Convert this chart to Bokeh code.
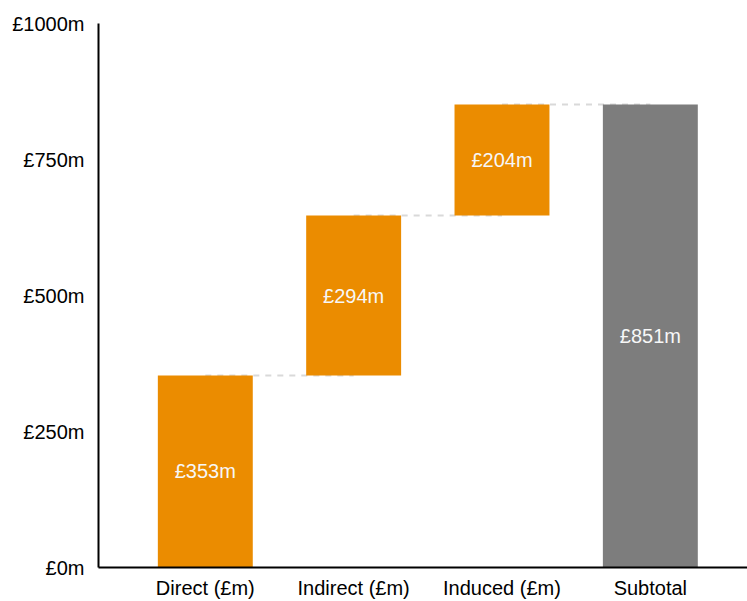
from bokeh.plotting import figure
from bokeh.models import ColumnDataSource, Range1d, FixedTicker
from bokeh.core.properties import value
from bokeh.embed import file_html
from bokeh.resources import INLINE

# Waterfall data: contributions and the resulting subtotal (£m)
categories = ["Direct (£m)", "Indirect (£m)", "Induced (£m)", "Subtotal"]
contributions = [353, 294, 204]
subtotal = 851
y_ticks = [0, 250, 500, 750, 1000]
y_tick_labels = ["£0m", "£250m", "£500m", "£750m", "£1000m"]

ORANGE = "#EB8C00"
GREY = "#7D7D7D"
FONT = "Liberation Sans"

# Build bar extents
xs = list(range(len(categories)))
bottoms, tops, colors, labels = [], [], [], []
running = 0
for v in contributions:
    bottoms.append(running)
    running += v
    tops.append(running)
    colors.append(ORANGE)
    labels.append(f"£{v}m")
bottoms.append(0)
tops.append(subtotal)
colors.append(GREY)
labels.append(f"£{subtotal}m")
mids = [(b + t) / 2 for b, t in zip(bottoms, tops)]

bars = ColumnDataSource(dict(x=xs, bottom=bottoms, top=tops, color=colors,
                             label=labels, mid=mids))

# Dashed connectors at each running total
conn_x0 = xs[:-1]
conn_x1 = xs[1:]
conn_y = tops[:-1]
connectors = ColumnDataSource(dict(x0=conn_x0, x1=conn_x1, y=conn_y))

p = figure(width=747, height=601, output_backend="svg", toolbar_location=None,
           x_range=Range1d(-0.72, 3.655), y_range=Range1d(0, 1000),
           min_border_left=98, min_border_right=0, min_border_top=23,
           min_border_bottom=0)
p.outline_line_color = None
p.grid.grid_line_color = None
p.background_fill_color = "white"
p.border_fill_color = "white"

p.segment(x0="x0", y0="y", x1="x1", y1="y", source=connectors,
          line_color="#D9D9D9", line_width=2, line_dash="6 6")

p.vbar(x="x", bottom="bottom", top="top", width=0.64, source=bars,
       fill_color="color", line_color="color", line_width=0)

p.text(x="x", y="mid", text="label", source=bars, text_color="#F7F7F7",
       text_font=value(FONT), text_font_size="20px", text_align="center",
       text_baseline="middle")

# Axes
p.yaxis.ticker = FixedTicker(ticks=y_ticks)
p.yaxis.major_label_overrides = {t: l for t, l in zip(y_ticks, y_tick_labels)}
p.yaxis.major_tick_in = 0
p.yaxis.major_tick_out = 10
p.yaxis.minor_tick_line_color = None
p.yaxis.axis_line_width = 2
p.yaxis.major_tick_line_width = 2
p.yaxis.major_label_standoff = 4

p.xaxis.ticker = FixedTicker(ticks=xs)
p.xaxis.major_label_overrides = {i: c for i, c in enumerate(categories)}
p.xaxis.major_tick_line_color = None
p.xaxis.minor_tick_line_color = None
p.xaxis.axis_line_width = 2
p.xaxis.major_label_standoff = 3

for ax in (p.xaxis, p.yaxis):
    ax.major_label_text_font = FONT
    ax.major_label_text_font_size = "20px"
    ax.major_label_text_color = "#000000"
    ax.axis_line_color = "#000000"
    ax.major_tick_line_color = "#000000" if ax is p.yaxis else None

open("out.html", "w").write(file_html(p, INLINE))
